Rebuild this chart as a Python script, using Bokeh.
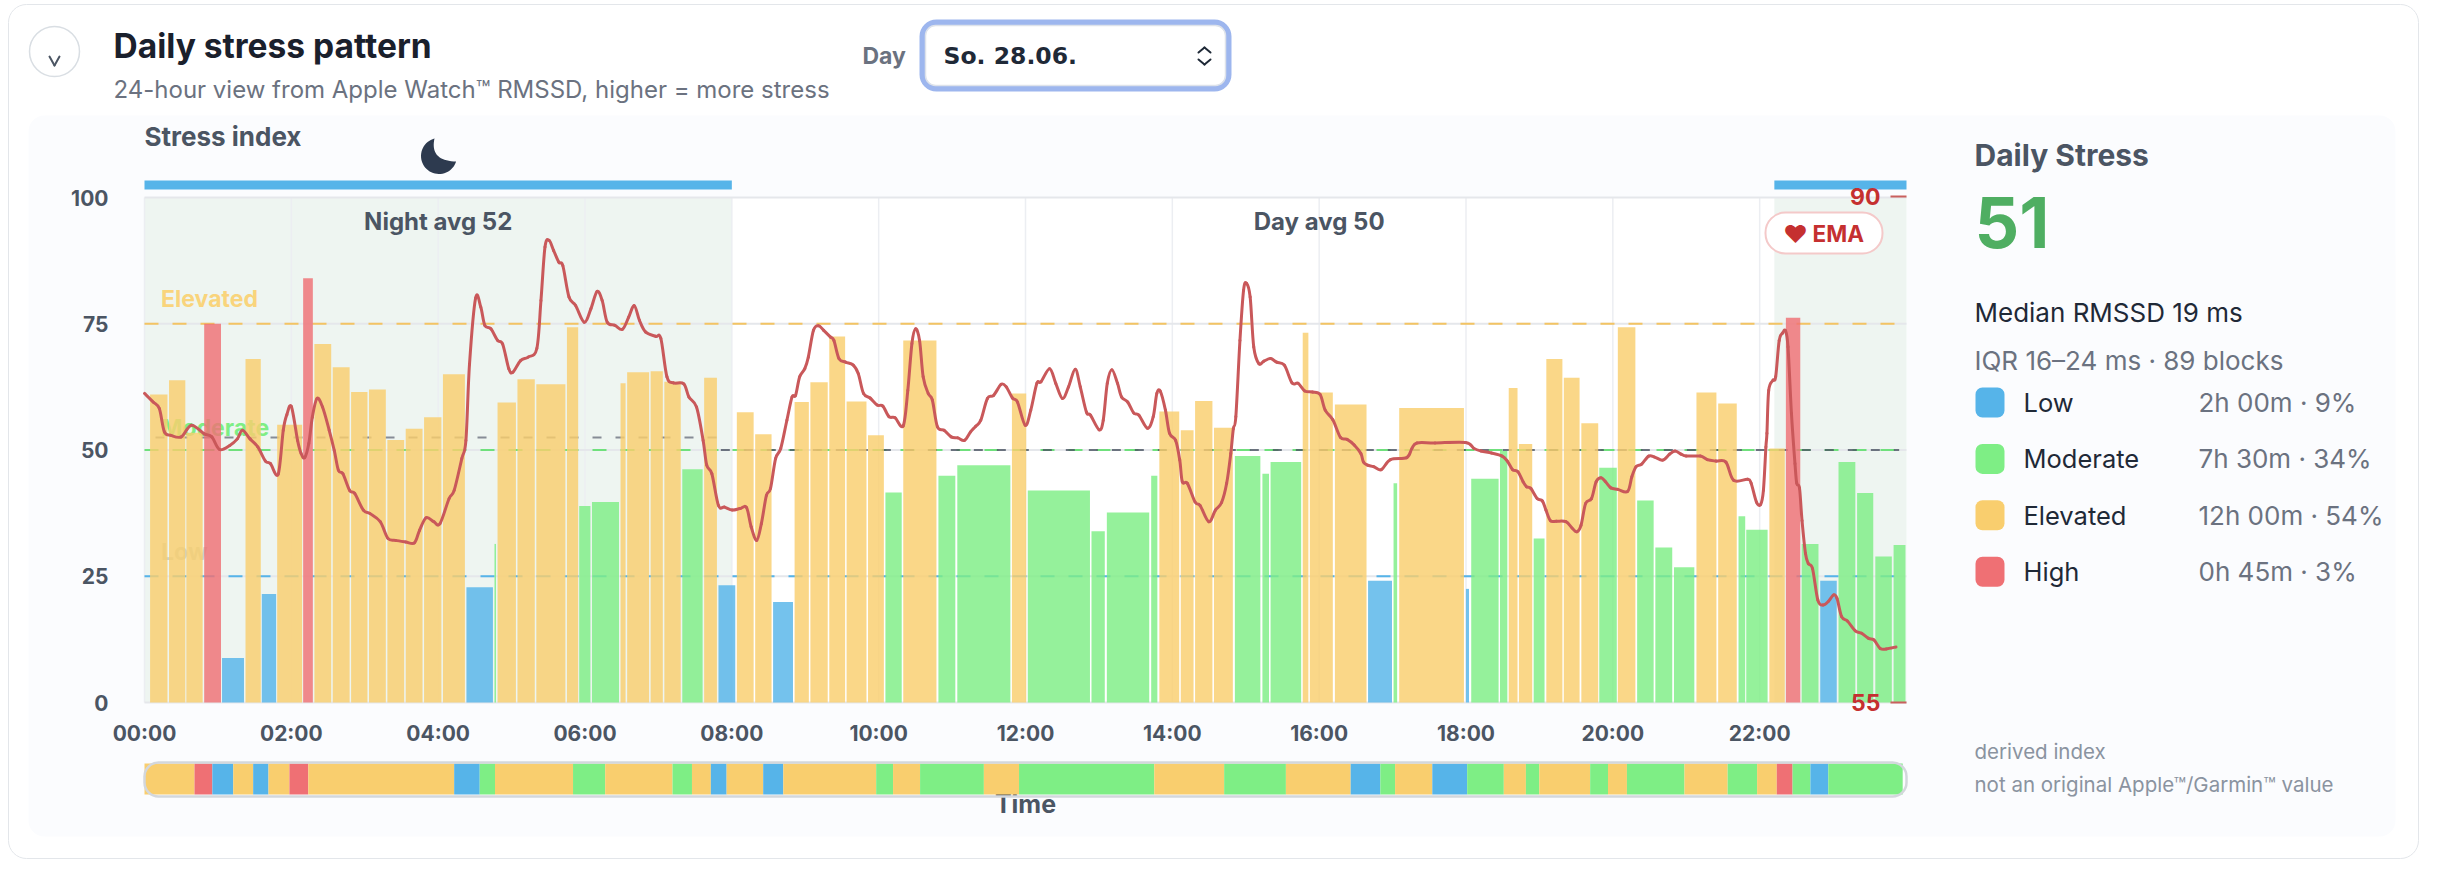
import numpy as np
from bokeh.core.properties import value
from bokeh.embed import file_html
from bokeh.models import Arrow, BoxAnnotation, ColumnDataSource, FixedTicker, Label, PolyAnnotation, Range1d
from bokeh.plotting import figure
from bokeh.resources import INLINE

# ---------- data ----------
bar_start = [0.076,0.334,0.570,0.813,1.056,1.376,1.598,1.807,2.161,2.314,2.564,2.814,3.058,3.308,3.558,3.808,4.065,4.385,4.767,4.809,5.080,5.337,5.754,5.921,6.095,6.484,6.574,6.894,7.081,7.325,7.623,7.818,8.068,8.318,8.562,8.855,9.070,9.327,9.563,9.855,10.092,10.335,10.814,11.071,11.815,12.031,12.899,13.108,13.712,13.823,14.115,14.310,14.567,14.852,15.227,15.338,15.776,15.873,16.214,16.666,17.013,17.090,17.999,18.071,18.463,18.582,18.721,18.922,19.094,19.332,19.571,19.815,20.068,20.331,20.579,20.833,21.139,21.435,21.712,21.817,22.132,22.357,22.572,22.825,23.074,23.327,23.575,23.824]
bar_end = [0.313,0.556,0.792,1.042,1.355,1.584,1.793,2.147,2.293,2.543,2.794,3.037,3.287,3.537,3.787,4.044,4.364,4.746,4.788,5.059,5.316,5.733,5.907,6.074,6.463,6.553,6.873,7.060,7.304,7.602,7.797,8.047,8.297,8.541,8.833,9.049,9.306,9.543,9.834,10.071,10.314,10.787,11.044,11.794,12.010,12.878,13.080,13.685,13.796,14.094,14.289,14.546,14.824,15.199,15.317,15.755,15.853,16.186,16.645,16.992,17.062,17.972,18.041,18.444,18.563,18.702,18.902,19.070,19.313,19.547,19.801,20.054,20.307,20.556,20.809,21.110,21.411,21.688,21.803,22.108,22.342,22.553,22.801,23.050,23.303,23.547,23.800,23.986]
bar_value = [61.0,63.8,53.4,75.0,8.8,68.0,21.5,55.0,84.0,71.0,66.4,61.5,62.0,52.0,54.2,56.5,65.0,22.8,31.4,59.4,64.0,63.0,74.3,38.9,39.7,63.2,65.4,65.6,63.5,46.2,64.3,23.2,57.5,53.1,19.9,59.5,63.4,72.5,59.6,52.9,41.6,71.7,44.9,47.0,61.2,42.0,33.9,37.6,44.9,57.6,53.9,59.7,54.4,48.8,45.3,47.6,73.2,61.4,59.0,24.1,43.4,58.3,22.5,44.3,49.8,62.3,51.2,32.5,68.0,64.3,55.3,46.5,74.3,40.0,30.7,26.8,61.4,59.2,36.9,34.2,50.3,76.2,31.4,24.1,47.6,41.5,28.9,31.2]
bar_level = list("EEEHLELEHEEEEEEEELMEEEEMMEEEEMELEELEEEEEMEMMEMMMMEEEEMMMEEELMELMMEEMEEEMEMMMEEMMEHMLMMMM")

line_hour = [0,.118,.202,.271,.361,.500,.639,.813,.917,1.022,1.161,1.265,1.334,1.438,1.543,1.647,1.716,1.821,1.890,1.939,2.001,2.085,2.133,2.182,2.238,2.286,2.349,2.425,2.516,2.585,2.641,2.703,2.794,2.863,2.981,3.072,3.211,3.315,3.419,3.558,3.676,3.746,3.836,3.940,4.024,4.149,4.218,4.322,4.378,4.427,4.510,4.580,4.635,4.718,4.809,4.878,4.962,5.017,5.122,5.226,5.344,5.400,5.455,5.511,5.573,5.643,5.698,5.782,5.872,5.990,6.081,6.164,6.234,6.303,6.407,6.511,6.595,6.671,6.741,6.824,6.963,7.033,7.116,7.206,7.345,7.415,7.519,7.609,7.658,7.728,7.818,7.901,8.006,8.110,8.200,8.263,8.339,8.402,8.471,8.527,8.596,8.666,
 8.750,8.820,8.868,8.924,8.994,9.042,9.112,9.181,9.251,9.341,9.390,9.459,9.549,9.654,9.723,9.793,9.883,9.980,10.057,10.140,10.223,10.335,10.397,10.453,10.502,10.557,10.606,10.675,10.731,10.800,10.891,10.988,11.078,11.169,11.252,11.322,11.391,11.481,11.565,11.669,11.738,11.822,11.891,11.996,12.072,12.155,12.211,12.329,12.412,12.503,12.586,12.677,12.746,12.830,12.885,13.003,13.059,13.114,13.177,13.253,13.309,13.392,13.476,13.545,13.663,13.740,13.789,13.837,13.906,13.962,14.045,14.101,14.136,14.205,14.310,14.379,14.497,14.587,14.671,14.740,14.796,14.831,14.865,14.921,14.970,15.011,15.060,15.109,15.178,15.248,15.338,15.421,15.526,15.630,15.713,15.804,15.908,16.012,16.082,16.186,16.290,16.380,16.477,16.568,16.603,16.659,16.742,16.846,16.971,17.193,17.263,17.332,17.576,17.993,18.109,18.205,18.348,18.492,18.563,18.635,18.707,18.778,18.826,18.883,18.969,19.041,19.089,19.151,19.232,19.361,19.447,19.509,19.567,19.629,19.710,19.772,19.839,19.901,19.973,20.068,20.202,20.259,20.317,20.393,20.489,20.570,20.680,20.775,20.847,20.928,21.000,21.191,21.287,21.406,21.540,21.645,21.836,21.884,21.956,22.013,22.051,22.085,22.099,22.123,22.180,22.218,22.266,22.314,22.352,22.386,22.433,22.481,22.505,22.543,22.577,22.624,22.663,22.720,22.792,22.863,22.935,23.007,23.054,23.116,23.198,23.303,23.389,23.484,23.556,23.642,23.723,23.857]
line_value = [61.2,59.5,58.2,53.6,52.9,52.6,54.9,53.2,52.6,50.1,50.9,52.2,53.9,52.2,50.6,47.8,47.3,45.2,53.9,57,58.6,51.9,49.3,48.5,51.3,56.5,60.2,58.5,53.9,49.9,46,45.3,42,41.4,38.1,37.4,35.8,32.5,32.1,31.8,31.6,34.1,36.6,35.8,35.4,40.4,42,48.3,51.9,67,80.1,78.3,74.7,74,71.7,71,66.1,65.4,67.7,68.4,70.1,79.6,90.2,91.5,89.5,87.2,86.5,80.3,78.6,75.3,78,81.4,79.6,75.3,74.7,73.9,76.3,78.6,75.7,73.4,72.5,72.1,64.5,63.3,63.1,60.5,58.5,51.9,47,45.3,39,38.7,38.1,38.4,38.6,34.8,32.1,35.4,41,42.4,48.3,50.3,
 55.9,60.5,60.8,64.5,66.1,68.4,73.7,74.6,73.7,72.4,71.7,68.1,67.4,66.8,65.1,61.2,60.3,58.9,58.7,56.6,56.4,54.8,61.8,71.1,74,71.7,64.5,61.2,59.9,54.6,53.9,52.6,52.4,51.9,53.6,54.7,55.9,60.2,60.8,63,62.5,60.3,59.5,54.9,57.9,63.2,63.5,66.1,63.2,60.2,62.5,66,62.5,57.5,56.9,54,55.9,63.2,65.9,63.2,60.5,59.5,57.3,56.9,54.3,56.6,61.2,61.6,57.9,53.3,51.9,48,43.7,43.4,39.7,39,35.8,38.1,39.6,43.4,49.3,54.2,56.6,71.7,81.6,83,80.3,70.4,67.1,67.6,68.1,67.4,66.8,63.3,63.2,61.7,61.5,61,57.9,56,52.5,52.1,51,49.3,47.6,47,46.7,46.1,48.1,48.5,50.3,51.4,51.4,51.5,50.3,49.8,49.4,48.8,47.8,46.1,45.7,43.7,42.7,42.4,40.4,39.9,38.1,36,35.9,35.8,34.5,33.8,35.1,39.4,40.4,43.7,44.5,43.7,42.5,42.2,41.8,44.7,46.7,47.2,48.8,48.6,48,49.2,49.8,49.2,48.8,48.8,48.1,47.8,47.6,44,44.2,43.4,39.7,39.2,42,50.6,53.3,61.8,63.8,64.5,71.7,73.2,73.6,70.4,57.2,47.3,43.4,42.4,36,29.5,27.5,26.5,20.3,19.3,20,21.3,20.6,17,16.1,14.2,13.7,12.7,12.4,10.7,10.6,11]

strip_end = [.681,.924,1.209,1.480,1.689,1.974,2.231,4.218,4.566,4.774,5.837,6.275,7.192,7.457,7.714,7.929,8.427,8.701,9.966,10.196,10.564,11.433,11.912,13.754,14.706,15.547,16.429,16.833,17.034,17.541,18.016,18.515,18.816,18.998,19.691,19.934,20.192,20.976,21.564,21.965,22.233,22.448,22.691,22.935,23.948]
strip_level = list("EHLELEHELMEMEMELELEMEMEMEMELMELMEMEMEMEMEHMLM")

tick_hours = list(range(0, 24, 2))
tick_labels = {h: f"{h:02d}:00" for h in tick_hours}
y_ticks = [0, 25, 50, 75, 100]
night_bands = [(0.0, 8.0), (22.2, 24.0)]
zones = [("Elevated", 75, 80.0), ("Moderate", 50, 54.3), ("Low", 25, 29.8)]
night_avg, day_avg = 52.5, 50.0
legend_rows = [("L", "Low", "2h 00m · 9%"), ("M", "Moderate", "7h 30m · 34%"), ("E", "Elevated", "12h 00m · 54%"), ("H", "High", "0h 45m · 3%")]

LEVEL = {"L": "#56B4E9", "M": "#7EEE85", "E": "#F9CE6E", "H": "#EF7074"}
FONT = "Inter"

# ---------- figure: the frame fills the canvas, the chart's scale sits inside it ----------
L, T, FW, FH = 144, 197, 1762, 505
CW, CH = 2438, 878

def X(px):
    return (px - L) * 24 / FW

def Y(py):
    return (T + FH - py) * 100 / FH

p = figure(width=CW, height=CH, output_backend="svg", toolbar_location=None,
           x_range=Range1d(X(0), X(CW)), y_range=Range1d(Y(CH), Y(0)),
           min_border=0, border_fill_color="#E9ECEF", background_fill_color=None, outline_line_color=None)
p.grid.visible = False

def box(x0, y0, x1, y1, fill, line=None, lw=0, radius=0, level="annotation"):
    b = BoxAnnotation(left=X(x0), right=X(x1), top=Y(y0), bottom=Y(y1), fill_color=fill, fill_alpha=1 if fill else 0,
                      line_color=line, line_alpha=1 if line else 0, line_width=lw, border_radius=radius, level=level)
    p.add_layout(b)
    return b

def label(px, py, text, size, color, bold=False, align="left", font=FONT):
    p.add_layout(Label(x=X(px), y=Y(py), text=text, text_font=font, text_font_size=f"{size}px", text_color=color,
                       text_font_style="bold" if bold else "normal", text_align=align, text_baseline="middle"))

def stroke(points, color, width):
    for (a, b), (c, d) in zip(points[:-1], points[1:]):
        p.add_layout(Arrow(x_start=X(a), y_start=Y(b), x_end=X(c), y_end=Y(d), end=None, line_color=color, line_width=width, line_cap="round"))

# backgrounds
box(8, 4, 2418, 858, "#FFFFFF", "#E3E6EA", 1, 18, "underlay")
box(28, 115, 2395, 836, "#FBFCFE", None, 0, 16, "underlay")
box(L, T, L + FW, T + FH, "#FFFFFF", level="underlay")
for a, b in night_bands:
    p.add_layout(BoxAnnotation(left=a, right=b, top=100, bottom=0, fill_color="#EEF5F1", fill_alpha=1, line_alpha=0, level="underlay"))

# axes placed on the chart's own scale
xa, ya = p.xaxis[0], p.yaxis[0]
xa.fixed_location = 0
ya.fixed_location = 0
xa.bounds = (0, 24)
ya.bounds = (0, 100)
xa.ticker = FixedTicker(ticks=tick_hours)
xa.major_label_overrides = tick_labels
ya.ticker = FixedTicker(ticks=y_ticks)
for ax in (xa, ya):
    ax.axis_line_color = None
    ax.major_tick_line_color = None
    ax.minor_tick_line_color = None
    ax.major_tick_out = 0
    ax.major_tick_in = 0
    ax.major_label_text_font = FONT
    ax.major_label_text_font_size = "21px"
    ax.major_label_text_font_style = "bold"
    ax.major_label_text_color = "#4B5563"
xa.major_label_standoff = 18
ya.major_label_standoff = 36
xa.axis_label = "Time"
xa.axis_label_text_font = FONT
xa.axis_label_text_font_size = "25px"
xa.axis_label_text_font_style = "bold"
xa.axis_label_text_color = "#4B5563"
xa.axis_label_standoff = 40

# grid rules
p.segment(tick_hours, [0] * len(tick_hours), tick_hours, [100] * len(tick_hours), line_color="#ECEEF2", line_width=1.5)
p.segment([0] * 5, y_ticks, [24] * 5, y_ticks, line_color="#E5E7EB", line_width=2)

# zone lines and averages, beneath the bars
for name, level, _ in zones:
    lc = {"Elevated": "#F3C463", "Moderate": "#6FE07C", "Low": "#56B4E9"}[name]
    p.segment(0, level, 24, level, line_color=lc, line_width=2, line_dash="14 14")
p.segment(0.15, night_avg, 7.83, night_avg, line_color="#6B7280", line_width=2, line_dash="9 14", line_alpha=0.8)
p.segment(7.85, day_avg, 23.9, day_avg, line_color="#4B5563", line_width=2, line_dash="9 14", line_alpha=0.8)
for name, level, ypos in zones:
    c = {"Elevated": "#F9D47C", "Moderate": "#7EEE85", "Low": "#C9D2CB"}[name]
    p.text([0.226], [ypos], text=[name], text_font=value(FONT), text_font_size="23px", text_font_style="bold",
           text_color=c, text_baseline="middle")

# bars
src = ColumnDataSource(dict(left=bar_start, right=bar_end, top=bar_value, bottom=[0] * len(bar_value),
                            color=[LEVEL[k] for k in bar_level]))
p.quad(left="left", right="right", top="top", bottom="bottom", fill_color="color", fill_alpha=0.82, line_color=None, source=src)

# smooth line through the read points
lx, ly = np.array(line_hour), np.array(line_value)
px_, py_ = np.r_[lx[0], lx, lx[-1]], np.r_[ly[0], ly, ly[-1]]
cx0 = lx[:-1] + (px_[2:-1] - px_[:-3]) / 6
cy0 = ly[:-1] + (py_[2:-1] - py_[:-3]) / 6
cx1 = lx[1:] - (px_[3:] - px_[1:-2]) / 6
cy1 = ly[1:] - (py_[3:] - py_[1:-2]) / 6
p.bezier(lx[:-1], ly[:-1], lx[1:], ly[1:], cx0, cy0, cx1, cy1, line_color="#C9585A", line_width=3, line_cap="round")

# night bars above the chart
for a, b in night_bands:
    p.add_layout(BoxAnnotation(left=a, right=b, top=Y(180), bottom=Y(189), fill_color="#56B4E9", fill_alpha=1, line_alpha=0))

# state strip
starts = [0.0] + strip_end[:-1]
for a, b, k in zip(starts, strip_end, strip_level):
    p.add_layout(BoxAnnotation(left=a, right=b, top=Y(763), bottom=Y(794), fill_color=LEVEL[k], fill_alpha=1, line_alpha=0))
box(L, 762, L + FW, 796, None, "#D3D7DC", 2.5, 14)

# header
box(29, 26, 79, 76, "#FFFFFF", "#D9DEE3", 1.5, 25)
stroke([(49, 56), (54, 65), (59, 56)], "#4B5563", 2)
label(113, 45, "Daily stress pattern", 33.5, "#1A202C", True)
label(113, 89, "24-hour view from Apple Watch™ RMSSD, higher = more stress", 24, "#6B7280")
label(862, 55, "Day", 23, "#6B7280", True)
box(922, 22, 1228, 88, "#FFFFFF", "#9DB6EE", 6, 14)
box(925, 25, 1225, 85, None, "#DDE2EA", 1.5, 10)
label(943, 55, "So. 28.06.", 23.5, "#1F2937", True, font="DejaVu Sans")
stroke([(1198, 52), (1204, 47), (1210, 52)], "#1F2937", 2)
stroke([(1198, 59), (1204, 64), (1210, 59)], "#1F2937", 2)

# moon
ang = np.linspace(np.radians(18), np.radians(255), 40)
ox = 438.5 + 18 * np.cos(ang)
oy = 155.5 + 18 * np.sin(ang)
t = np.linspace(0, 1, 20)
ix = (1 - t) ** 2 * 434 + 2 * t * (1 - t) * 429 + t ** 2 * 456
iy = (1 - t) ** 2 * 138 + 2 * t * (1 - t) * 160.5 + t ** 2 * 161
p.add_layout(PolyAnnotation(xs=[X(v) for v in np.r_[ox, ix]], ys=[Y(v) for v in np.r_[oy, iy]],
                            fill_color="#2D3A4F", fill_alpha=1, line_alpha=0))

# labels in the chart
label(144, 136, "Stress index", 26, "#4B5563", True)
p.add_layout(Label(x=4, y=Y(221), text="Night avg 52", text_font=FONT, text_font_size="24px", text_font_style="bold",
                   text_color="#4B5563", text_align="center", text_baseline="middle"))
p.add_layout(Label(x=16, y=Y(221), text="Day avg 50", text_font=FONT, text_font_size="24px", text_font_style="bold",
                   text_color="#4B5563", text_align="center", text_baseline="middle"))
box(1765, 212, 1882, 253, "#FFFFFF", "#F4C9C9", 2, 20)
label(1795, 234, "♥", 24, "#C53030", True, "center")
label(1812, 233, "EMA", 22.5, "#C53030", True)
label(1880, 196, "90", 23, "#C53030", True, "right")
label(1880, 702, "55", 23, "#C53030", True, "right")
box(1890, 195, 1906, 197, "#C9605E")
box(1890, 701, 1906, 703, "#C9605E")

# side panel
label(1974, 154, "Daily Stress", 30, "#4B5563", True)
label(1974, 222, "51", 70, "#4FAE62", True)
label(1974, 312, "Median RMSSD 19 ms", 26, "#1F2937")
label(1974, 360, "IQR 16–24 ms · 89 blocks", 26, "#6B7280")
for i, (k, name, txt) in enumerate(legend_rows):
    yc = 402 + i * 56.4
    box(1975, yc - 15, 2004, yc + 15, LEVEL[k], None, 0, 7)
    label(2023, yc, name, 25.5, "#1F2937")
    label(2198, yc, txt, 26, "#6B7280")
label(1974, 751, "derived index", 20.5, "#8A93A0")
label(1974, 784, "not an original Apple™/Garmin™ value", 20.5, "#8A93A0")

open("out.html", "w").write(file_html(p, INLINE))
